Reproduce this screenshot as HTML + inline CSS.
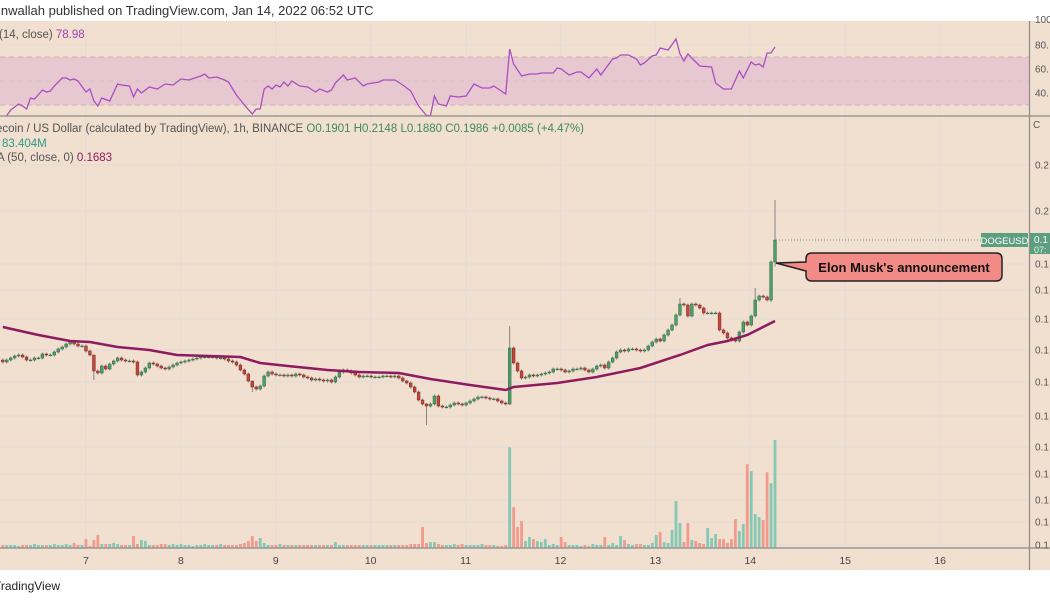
<!DOCTYPE html>
<html><head><meta charset="utf-8">
<style>
html,body{margin:0;padding:0;background:#fff;width:1050px;height:600px;overflow:hidden;font-family:"Liberation Sans",sans-serif}
svg text{font-family:"Liberation Sans",sans-serif}
</style></head>
<body>
<svg id="chart" width="1050" height="600" viewBox="0 0 1050 600">
  <rect x="0" y="0" width="1050" height="600" fill="#fff"/>
  <rect x="0" y="21" width="1050" height="549" fill="#f1dfcf"/>
  <text x="-2" y="15" font-size="13" fill="#333">inwallah published on TradingView.com, Jan 14, 2022 06:52 UTC</text>
  <g id="grid"></g>
  <rect x="0" y="57" width="1029" height="48" fill="#e8c8d0"/>
  <line x1="0" y1="57" x2="1029" y2="57" stroke="#c9b2b4" stroke-dasharray="5,4"/>
  <line x1="0" y1="105" x2="1029" y2="105" stroke="#c9b2b4" stroke-dasharray="5,4"/>
  <line x1="0" y1="81" x2="1029" y2="81" stroke="#d8c2c8" stroke-dasharray="5,4"/>
  <g id="vol"></g>
  <g id="candles"></g>
  <path id="ma" fill="none" stroke="#8e1b5f" stroke-width="2.5"/>
  <path id="rsi" fill="none" stroke="#a84ec4" stroke-width="1.3"/>
  <line x1="0" y1="116" x2="1050" y2="116" stroke="#8a8a8a" stroke-width="1.2"/>
  <line x1="0" y1="548" x2="1050" y2="548" stroke="#8a8a8a" stroke-width="1.2"/>
  <line x1="1029.5" y1="21" x2="1029.5" y2="570" stroke="#8a8a8a" stroke-width="1.2"/>
  <line id="lastline" x1="776" y1="240" x2="981" y2="240" stroke="#5d9e7f" stroke-dasharray="1,2"/>
  <g id="axes" font-size="10" fill="#555"></g>
  <text x="-1" y="38" font-size="11.5" fill="#555">(14, close) <tspan fill="#9c3fb5">78.98</tspan></text>
  <text x="-4" y="132" font-size="11.5" fill="#555">ecoin / US Dollar (calculated by TradingView), 1h, BINANCE <tspan fill="#3f8a5c">O0.1901</tspan> <tspan fill="#3f8a5c">H0.2148</tspan> <tspan fill="#3f8a5c">L0.1880</tspan> <tspan fill="#3f8a5c">C0.1986</tspan> <tspan fill="#3f8a5c">+0.0085 (+4.47%)</tspan></text>
  <text x="2" y="147" font-size="11.5" fill="#2b9c88">83.404M</text>
  <text x="-3" y="161" font-size="11.5" fill="#555">A (50, close, 0) <tspan fill="#8e1b5f">0.1683</tspan></text>
  <g>
    <path d="M812,253 H996 Q1002,253 1002,259 V275 Q1002,281 996,281 H812 Q806,281 806,275 V271 L776,263 L806,262 V259 Q806,253 812,253 Z" fill="#f28a85" stroke="#222" stroke-width="1.5"/>
    <text x="904" y="272" font-size="13" font-weight="bold" fill="#111" text-anchor="middle">Elon Musk's announcement</text>
  </g>
  <rect x="981" y="233" width="47" height="14" fill="#5d9e7f"/>
  <text x="1004.5" y="244" font-size="9.5" fill="#fff" text-anchor="middle">DOGEUSD</text>
  <rect x="1030" y="233" width="20" height="21" fill="#5d9e7f"/>
  <text x="1034" y="243" font-size="10" fill="#fff">0.1</text>
  <text x="1034" y="253" font-size="9" fill="#e6f3ec">07:</text>
  <rect x="0" y="570" width="1050" height="30" fill="#fff"/>
  <text x="-6" y="590" font-size="12" fill="#222">TradingView</text>
</svg>
<script>
const firstOpen = 0.1506;
const closes = [.1498,.1506,.1514,.1522,.1526,.1518,.1506,.1506,.1514,.1514,
.1530,.1526,.1526,.1538,.1550,.1558,.1570,.1578,.1570,.1562,
.1562,.1542,.1526,.1462,.1454,.1482,.1470,.1490,.1502,.1514,
.1506,.1502,.1502,.1498,.1446,.1458,.1474,.1494,.1490,.1482,
.1474,.1470,.1478,.1486,.1494,.1498,.1502,.1506,.1510,.1514,
.1518,.1518,.1518,.1518,.1514,.1514,.1510,.1502,.1498,.1486,
.1466,.1450,.1422,.1398,.1390,.1402,.1442,.1458,.1450,.1446,
.1446,.1442,.1446,.1442,.1450,.1446,.1438,.1434,.1426,.1430,
.1426,.1422,.1426,.1418,.1438,.1458,.1466,.1462,.1454,.1446,
.1438,.1442,.1442,.1438,.1438,.1438,.1442,.1442,.1438,.1442,
.1434,.1422,.1414,.1398,.1378,.1346,.1330,.1322,.1330,.1362,
.1322,.1318,.1318,.1326,.1334,.1330,.1326,.1334,.1342,.1350,
.1358,.1358,.1354,.1350,.1350,.1342,.1334,.1330,.1554,.1494,
.1462,.1434,.1438,.1446,.1442,.1446,.1450,.1454,.1458,.1470,
.1470,.1466,.1458,.1462,.1470,.1470,.1474,.1466,.1458,.1470,
.1482,.1486,.1474,.1498,.1514,.1538,.1546,.1542,.1550,.1550,
.1546,.1542,.1546,.1562,.1578,.1590,.1582,.1606,.1626,.1646,
.1686,.1730,.1726,.1682,.1730,.1726,.1714,.1694,.1694,.1694,
.1694,.1626,.1614,.1594,.1586,.1582,.1618,.1658,.1646,.1682,
.1746,.1762,.1758,.1746,.1898,.1986];
const highIdx = [23,63,107,128,171,190,195];
const highVals = [.1520,.1402,.1334,.1642,.1754,.1794,.2146];
const lowIdx = [23,63,107,128,194,195];
const lowVals = [.1426,.1378,.1246,.1326,.1738,.1880];
const volumes = [2.3,2.3,2.3,2.3,1.5,2.3,2.3,2.3,3.1,2.3,
2.3,2.3,2.3,3.1,2.3,2.3,3.1,2.3,3.9,2.3,
2.3,6.9,1.5,6.2,10,3.1,3.1,3.1,3.9,3.1,
2.3,2.3,2.3,9.2,3.1,6.2,5.4,2.3,2.3,2.3,
3.1,3.1,2.3,3.1,2.3,3.1,2.3,2.3,1.5,2.3,
2.3,3.1,2.3,2.3,2.3,3.1,2.3,2.3,2.3,2.3,
3.1,3.9,5.4,9.2,5.4,7.7,3.9,2.3,2.3,2.3,
3.1,2.3,2.3,2.3,2.3,2.3,2.3,2.3,2.3,2.3,
2.3,2.3,2.3,2.3,4.6,2.3,2.3,2.3,2.3,2.3,
2.3,2.3,2.3,2.3,2.3,2.3,2.3,2.3,2.3,2.3,
2.3,2.3,2.3,3.1,3.1,3.1,16.2,3.9,4.6,4.6,
3.1,2.3,2.3,2.3,3.1,2.3,3.1,2.3,2.3,2.3,
2.3,3.1,2.3,2.3,2.3,1.5,1.5,2.3,77.8,31.6,
16.2,20.8,5.4,8.5,6.9,5.4,4.6,6.9,2.3,3.1,
2.3,8.5,4.6,2.3,2.3,2.3,1.5,2.3,1.5,3.1,
2.3,2.3,8.5,2.3,3.9,2.3,9.2,6.2,3.1,2.3,
3.1,3.1,2.3,2.3,3.9,10,12.3,4.6,3.9,13.9,
36.2,19.3,4.6,19.3,6.2,5.4,3.9,3.1,15.4,7.7,
10.8,6.9,6.9,3.9,6.9,22.3,13.1,18.5,64.7,59.3,
26.2,23.9,21.6,58.5,50,83.4];
const maIdx = [0,9,17,22,29,37,44,52,60,65,72,82,90,100,108,118,127,129,140,150,161,171,178,183,188,192,195];
const maVals = [.1638,.1606,.1582,.1578,.1558,.1546,.1526,.1522,.1518,.1494,.1482,.1466,.1458,.1454,.1430,.1406,.1386,.1398,.1414,.1438,.1474,.1526,.1566,.1582,.1606,.1638,.1662];
const rsiIdx = [1,2,4,5,6,7,8,10,11,12,13,15,16,17,18,19,21,22,23,24,25,27,29,30,32,33,34,35,37,39,41,43,45,47,50,51,52,54,56,57,59,61,63,64,65,66,67,68,69,70,71,72,73,75,77,79,80,82,83,84,86,87,89,91,92,95,96,98,99,101,103,105,107,108,109,110,112,113,115,117,119,121,123,124,127,128,129,131,133,135,136,139,140,141,143,145,146,148,150,151,154,155,156,158,160,161,162,164,165,166,168,170,171,172,173,174,176,179,180,182,184,186,187,189,190,191,192,193,194,195];
const rsiVals = [20.8,25.8,30.8,29.2,26.7,35.8,35,42.5,40.8,41.7,45.8,52.5,52.5,50.8,51.7,50,40.8,43.3,33.3,29.2,35.8,33.3,47.5,46.7,45.8,36.7,43.3,40,45,43.3,47.5,46.7,51.7,50.8,54.2,55.8,52.5,53.3,50.8,49.2,38.3,30,22.5,26.7,26.7,43.3,45.8,43.3,46.7,45,49.2,45.8,50,45.8,45,40.8,43.3,40.8,42.5,48.3,55,50.8,52.5,45.8,47.5,49.2,50.8,50.8,50.8,46.7,41.7,29.2,20.8,20.8,37.5,30.8,29.2,37.5,36.7,37.5,47.5,44.2,44.2,45.8,39.2,76.7,64.2,54.2,55.8,55.8,56.7,56.7,60.8,60,55,57.5,57.5,52.5,60,55,68.3,69.2,71.7,71.7,68.3,63.3,65,70.8,71.7,77.5,75.8,85,72.5,66.7,72.5,69.2,62.5,61.7,48.3,43.3,43.3,58.3,52.5,65.8,63.3,64.2,61.7,73.3,73.3,78.3];
const dayLabels = ["7","8","9","10","11","12","13","14","15","16"];
const rsiTicks = ["80.","60.","40."];
const rsiTickVals = [80,60,40];
const priceTickLabels = ["0.2","0.2","0.1","0.1","0.1","0.1","0.1","0.1","0.1","0.1","0.1","0.1","0.1"];
const priceTickVals = [.2286,.2102,.1890,.1786,.1670,.1546,.1418,.1282,.1158,.1050,.0946,.0858,.0766];

const NS = "http://www.w3.org/2000/svg";
const N = closes.length;
const step = 3.96;
const xOf = i => 775 - (N - 1 - i) * step;
const yP = p => 240 - (p - 0.1986) * 2500;
const yV = v => 548 - v * 1.295;
const yR = r => 105 - (r - 30) * 1.2;
const dayX = d => 86 + d * 94.9;
function mk(tag, attrs, parent){const e=document.createElementNS(NS,tag);for(const k in attrs)e.setAttribute(k,attrs[k]);parent.appendChild(e);return e;}

const grid = document.getElementById('grid');
dayLabels.forEach((d,k)=>{
  const l = mk('line',{x1:dayX(k),x2:dayX(k),y1:21,y2:548,stroke:'#e6ddd8','stroke-width':1.2},grid);
  
  
});
priceTickVals.forEach(v=>{
  const l = mk('line',{x1:0,x2:1029,y1:yP(v),y2:yP(v),stroke:'#e6ddd8','stroke-width':1.2},grid);
  
  
});
rsiTickVals.forEach(v=>{
  const l = mk('line',{x1:0,x2:1029,y1:yR(v),y2:yR(v),stroke:'#e6ddd8','stroke-width':1},grid);
  
  
});

const vol = document.getElementById('vol');
const cg = document.getElementById('candles');
for(let i=0;i<N;i++){
  const o = i===0?firstOpen:closes[i-1];
  const c = closes[i];
  const up = c>=o;
  const x = xOf(i);
  const vb = mk('rect',{x:x-1.4,y:yV(volumes[i]),width:2.8,height:548-yV(volumes[i]),fill:up?'#86c8b4':'#f29a8e'},vol);
  
  
  const hi = highIdx.indexOf(i)>=0?highVals[highIdx.indexOf(i)]:null;
  const lo = lowIdx.indexOf(i)>=0?lowVals[lowIdx.indexOf(i)]:null;
  const topB = Math.min(yP(o),yP(c)), botB = Math.max(yP(o),yP(c));
  const wTop = hi!==null?yP(hi):topB-1.5, wBot = lo!==null?yP(lo):botB+1.5;
  const w = mk('line',{x1:x,x2:x,y1:wTop,y2:wBot,stroke:'#7a7a7a','stroke-width':0.9},cg);
  
  
  const b = mk('rect',{x:x-1.4,y:topB,width:2.8,height:Math.max(botB-topB,0.8),fill:up?'#4f9d6a':'#c4473a',stroke:up?'#2f6a44':'#7a2a22','stroke-width':0.5},cg);
  
  
}
let d='';
maIdx.forEach((ix,k)=>{d+=(k?'L':'M')+xOf(ix).toFixed(1)+','+yP(maVals[k]).toFixed(1);});
document.getElementById('ma').setAttribute('d',d);
let r='';
rsiIdx.forEach((ix,k)=>{r+=(k?'L':'M')+xOf(ix).toFixed(1)+','+Math.min(yR(rsiVals[k]),115.5).toFixed(1);});
document.getElementById('rsi').setAttribute('d',r);

const ax = document.getElementById('axes');
dayLabels.forEach((t,k)=>{
  const e = mk('text',{x:dayX(k),y:564,'text-anchor':'middle','font-size':10.5,fill:'#444'},ax);
  e.textContent=t;
  
  
});
rsiTicks.forEach((t,k)=>{
  const e = mk('text',{x:1035,y:yR(rsiTickVals[k])+3.5},ax);
  e.textContent=t;
  
  
});
const top100 = mk('text',{x:1035,y:23},ax); top100.textContent='100';


const cLbl = mk('text',{x:1033,y:128},ax); cLbl.textContent='C';


priceTickLabels.forEach((t,k)=>{
  const e = mk('text',{x:1035,y:yP(priceTickVals[k])+3.5},ax);
  e.textContent=t;
  
  
});
</script>
</body></html>
